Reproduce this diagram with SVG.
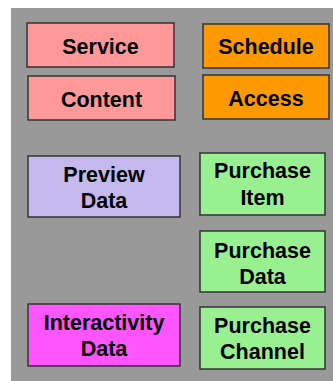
<svg xmlns="http://www.w3.org/2000/svg" width="333" height="381" viewBox="0 0 333 381">
<style>
.b{stroke:#333;stroke-width:1.5}
text{font-family:"Liberation Sans",Arial,sans-serif;font-weight:bold;font-size:21.5px;text-anchor:middle;fill:#000}
</style>
<rect x="0" y="0" width="333" height="381" fill="#fff"/>
<rect x="11" y="8" width="322" height="373" fill="#999999"/>
<g id="service"><rect class="b" x="27" y="23" width="147" height="44" fill="#ff9999"/><text x="100.5" y="53.5">Service</text></g>
<g id="schedule"><rect class="b" x="203" y="24" width="126" height="44" fill="#ff9900"/><text x="266" y="54">Schedule</text></g>
<g id="content"><rect class="b" x="28" y="76" width="147" height="44" fill="#ff9999"/><text x="101.5" y="106.5">Content</text></g>
<g id="access"><rect class="b" x="203" y="75" width="126" height="44" fill="#ff9900"/><text x="266" y="105.5">Access</text></g>
<g id="preview"><rect class="b" x="28" y="156" width="152" height="61" fill="#c4b8ec"/><text x="104" y="181.5">Preview</text><text x="104" y="208">Data</text></g>
<g id="purchase-item"><rect class="b" x="200" y="153" width="125" height="62" fill="#99f090"/><text x="262.5" y="177.5">Purchase</text><text x="262.5" y="205">Item</text></g>
<g id="purchase-data"><rect class="b" x="200" y="231" width="125" height="61" fill="#99f090"/><text x="262.5" y="258">Purchase</text><text x="262.5" y="283.5">Data</text></g>
<g id="interactivity"><rect class="b" x="28" y="304" width="152" height="62" fill="#ff55ff"/><text x="104" y="330">Interactivity</text><text x="104" y="356">Data</text></g>
<g id="purchase-channel"><rect class="b" x="200" y="307" width="125" height="62" fill="#99f090"/><text x="262.5" y="332.5">Purchase</text><text x="262.5" y="359">Channel</text></g>
<g id="connectors"></g>
</svg>
